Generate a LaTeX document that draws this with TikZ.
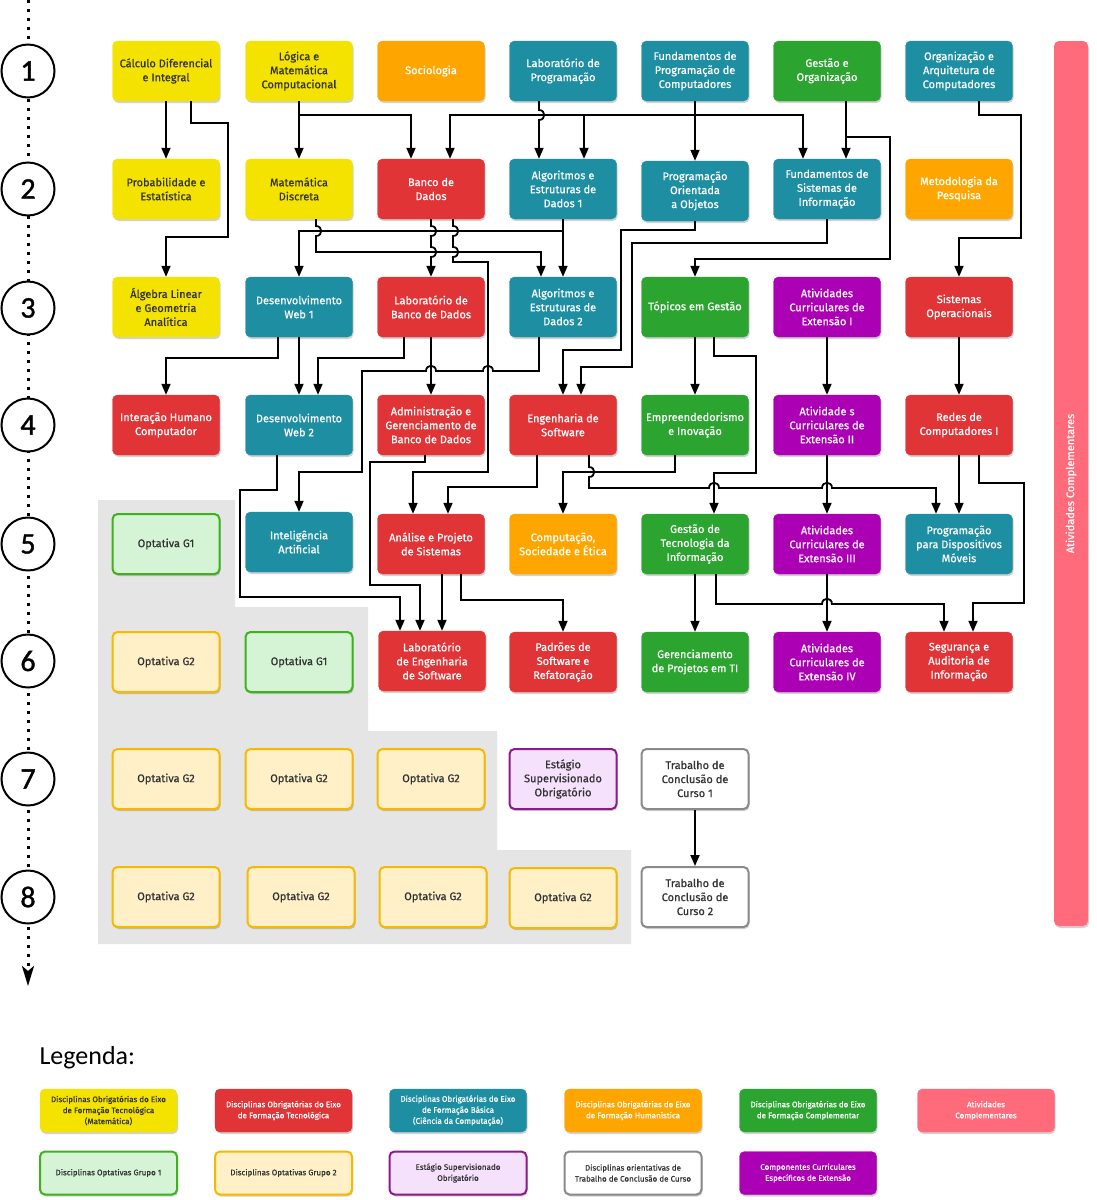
\documentclass[tikz,border=0pt]{standalone}
\usepackage{fontspec}
\setmainfont{Fira Sans}[FakeBold=0.6]
\newfontfamily\numfont{Carlito}[FakeBold=1.2]
\newfontfamily\legfont{Carlito}
\usetikzlibrary{arrows.meta,shadows}

\definecolor{cyel}{HTML}{F4E300}
\definecolor{cred}{HTML}{E03437}
\definecolor{cteal}{HTML}{1E8FA3}
\definecolor{cora}{HTML}{FFA500}
\definecolor{cgrn}{HTML}{2BA52F}
\definecolor{cpur}{HTML}{AC00B5}
\definecolor{cpink}{HTML}{FF6B7B}
\definecolor{copt1f}{HTML}{D5F4D5}
\definecolor{copt1d}{HTML}{3CB21C}
\definecolor{copt2f}{HTML}{FFF0C8}
\definecolor{copt2d}{HTML}{F7B900}
\definecolor{cestf}{HTML}{F5E1FC}
\definecolor{cestd}{HTML}{8B1A8B}
\definecolor{ctccd}{HTML}{8A8A8A}
\definecolor{cbg}{HTML}{E5E5E5}
\definecolor{ctxt}{HTML}{333333}

\newcommand\vjmp[2]{-- (#1,#2-5) .. controls (#1+7,#2-5) and (#1+7,#2+5) .. (#1,#2+5)}
\newcommand\hjmpR[2]{-- (#1-5,#2) .. controls (#1-5,#2-7) and (#1+5,#2-7) .. (#1+5,#2)}
\newcommand\hjmpL[2]{-- (#1+5,#2) .. controls (#1+5,#2-7) and (#1-5,#2-7) .. (#1-5,#2)}

\tikzset{
  box/.style={rectangle, rounded corners=5pt, minimum width=107pt, minimum height=60pt,
    align=center, inner sep=2pt, font=\fontsize{11}{14}\selectfont,
    drop shadow={shadow xshift=1pt, shadow yshift=-2pt, opacity=0.18, fill=black}},
  bYel/.style={box, fill=cyel, draw=cyel, text=ctxt},
  bRed/.style={box, fill=cred, draw=cred, text=white},
  bTeal/.style={box, fill=cteal, draw=cteal, text=white},
  bOra/.style={box, fill=cora, draw=cora, text=white},
  bGrn/.style={box, fill=cgrn, draw=cgrn, text=white},
  bPur/.style={box, fill=cpur, draw=cpur, text=white},
  bOpt1/.style={box, fill=copt1f, draw=copt1d, line width=2pt, text=ctxt},
  bOpt2/.style={box, fill=copt2f, draw=copt2d, line width=2pt, text=ctxt},
  bEst/.style={box, fill=cestf, draw=cestd, line width=2pt, text=ctxt},
  bTcc/.style={box, fill=white, draw=ctccd, line width=2pt, text=ctxt},
  leg/.style={minimum width=137pt, minimum height=43pt, font=\fontsize{8}{11}\selectfont},
  conn/.style={draw=black, line width=1.8pt, -{Triangle[width=9pt,length=11pt]}},
  numc/.style={circle, draw=black, line width=2pt, fill=white, minimum size=53pt, inner sep=0pt,
    font=\numfont\fontsize{30}{30}\selectfont},
}

\begin{document}
\begin{tikzpicture}[x=1pt, y=-1pt]
\useasboundingbox (0,0) rectangle (1096,1200);
\fill[white] (0,0) rectangle (1096,1200);

% gray optional area
\fill[cbg] (98,500) -- (235,500) -- (235,607) -- (368,607) -- (368,731) -- (497,731)
  -- (497,850) -- (631,850) -- (631,944) -- (98,944) -- cycle;

% semester axis
\coordinate (axtop) at (28,0);
\coordinate (axbot) at (28,986);
\draw[line width=3pt, dash pattern=on 3pt off 6pt, -{Stealth[width=12pt,length=20pt,inset=5pt]}] (axtop) -- (axbot);
\foreach \n/\yy in {1/71,2/189,3/308,4/425,5/544,6/661,7/779,8/897}
  \node[numc] (s\n) at (28,\yy) {\n};

% Atividades complementares bar
\node[rectangle, rounded corners=5pt, fill=cpink, rotate=90, minimum width=885pt, minimum height=34pt,
  text=white, font=\fontsize{11}{13}\selectfont,
  drop shadow={shadow xshift=1pt, shadow yshift=-2pt, opacity=0.18, fill=black}] (ativc) at (1071,483.5) {Atividades Complementares};

% Row 1
\node[bYel] (calc) at (166,71) {Cálculo Diferencial\\e Integral};
\node[bYel] (logica) at (299,71) {Lógica e\\Matemática\\Computacional};
\node[bOra] (socio) at (431,71) {Sociologia};
\node[bTeal] (labprog) at (563,71) {Laboratório de\\Programação};
\node[bTeal] (fundprog) at (695,71) {Fundamentos de\\Programação de\\Computadores};
\node[bGrn] (gestao) at (827,71) {Gestão e\\Organização};
\node[bTeal] (orgarq) at (959,71) {Organização e\\Arquitetura de\\Computadores};

% Row 2
\node[bYel] (prob) at (166,189) {Probabilidade e\\Estatística};
\node[bYel] (matdisc) at (299,189) {Matemática\\Discreta};
\node[bRed] (bd) at (431,189) {Banco de\\Dados};
\node[bTeal] (aed1) at (563,189) {Algoritmos e\\Estruturas de\\Dados 1};
\node[bTeal] (poo) at (695,191) {Programação\\Orientada\\a Objetos};
\node[bTeal] (fsi) at (827,189) {Fundamentos de\\Sistemas de\\Informação};
\node[bOra] (metod) at (959,189) {Metodologia da\\Pesquisa};

% Row 3
\node[bYel] (alg) at (166,307) {Álgebra Linear\\e Geometria\\Analítica};
\node[bTeal] (dw1) at (299,307) {Desenvolvimento\\Web 1};
\node[bRed] (labbd) at (431,307) {Laboratório de\\Banco de Dados};
\node[bTeal] (aed2) at (563,307) {Algoritmos e\\Estruturas de\\Dados 2};
\node[bGrn] (topicos) at (695,307) {Tópicos em Gestão};
\node[bPur] (ace1) at (827,307) {Atividades\\Curriculares de\\Extensão I};
\node[bRed] (so) at (959,307) {Sistemas\\Operacionais};

% Row 4
\node[bRed] (ihc) at (166,425) {Interação Humano\\Computador};
\node[bTeal] (dw2) at (299,425) {Desenvolvimento\\Web 2};
\node[bRed] (adm) at (431,425) {Administração e\\Gerenciamento de\\Banco de Dados};
\node[bRed] (es) at (563,425) {Engenharia de\\Software};
\node[bGrn] (empre) at (695,425) {Empreendedorismo\\e Inovação};
\node[bPur] (ace2) at (827,425) {Atividade s\\Curriculares de\\Extensão II};
\node[bRed] (redes) at (959,425) {Redes de\\Computadores I};

% Row 5
\node[bOpt1] (opt51) at (166,544) {Optativa G1};
\node[bTeal] (ia) at (299,542) {Inteligência\\Artificial};
\node[bRed] (aps) at (431,544) {Análise e Projeto\\de Sistemas};
\node[bOra] (comp) at (563,544) {Computação,\\Sociedade e Ética};
\node[bGrn] (gti) at (695,544) {Gestão de\\Tecnologia da\\Informação};
\node[bPur] (ace3) at (827,544) {Atividades\\Curriculares de\\Extensão III};
\node[bTeal] (pdm) at (959,544) {Programação\\para Dispositivos\\Móveis};

% Row 6
\node[bOpt2] (opt61) at (166,662) {Optativa G2};
\node[bOpt1] (opt62) at (299,662) {Optativa G1};
\node[bRed] (labes) at (432,661) {Laboratório\\de Engenharia\\de Software};
\node[bRed] (padroes) at (563,662) {Padrões de\\Software e\\Refatoração};
\node[bGrn] (gp) at (695,662) {Gerenciamento\\de Projetos em TI};
\node[bPur] (ace4) at (827,662) {Atividades\\Curriculares de\\Extensão IV};
\node[bRed] (seg) at (959,662) {Segurança e\\Auditoria de\\Informação};

% Row 7
\node[bOpt2] (opt71) at (166,779) {Optativa G2};
\node[bOpt2] (opt72) at (299,779) {Optativa G2};
\node[bOpt2] (opt73) at (431,779) {Optativa G2};
\node[bEst] (estagio) at (563,779) {Estágio\\Supervisionado\\Obrigatório};
\node[bTcc] (tcc1) at (695,779) {Trabalho de\\Conclusão de\\Curso 1};

% Row 8
\node[bOpt2] (opt81) at (166,897) {Optativa G2};
\node[bOpt2] (opt82) at (301,897) {Optativa G2};
\node[bOpt2] (opt83) at (433,897) {Optativa G2};
\node[bOpt2] (opt84) at (563,898) {Optativa G2};
\node[bTcc] (tcc2) at (695,897) {Trabalho de\\Conclusão de\\Curso 2};

% ---------- connectors ----------
% row 1 -> 2/3
\draw[conn] (calc.south) -- (prob.north);
\draw[conn] ([xshift=25]calc.south) -- (191,123) -- (228,123) -- (228,237) -- (166,237) -- (alg.north);
\draw[conn] (logica.south) -- (matdisc.north);
\draw[conn] (logica.south) -- (299,115) -| ([xshift=-20]bd.north);
\draw[conn] ([xshift=-24]labprog.south) \vjmp{539}{115} -- ([xshift=-24]aed1.north);
\draw[conn] (fundprog.south) -- (poo.north);
\draw[conn] (fundprog.south) -- (695,115) -| ([xshift=19]bd.north);
\draw[conn] (695,115) -| ([xshift=21]aed1.north);
\draw[conn] (695,115) -| ([xshift=-24]fsi.north);
\draw[conn] ([xshift=19]gestao.south) -- ([xshift=19]fsi.north);
\draw[conn] ([xshift=19]gestao.south) -- (846,137) -- (890,137) -- (890,259) -| (topicos.north);
\draw[conn] ([xshift=20]orgarq.south) -- (979,115) -- (1021,115) -- (1021,238) -| (so.north);

% row 2 -> 3/4
\draw[conn] ([xshift=17]matdisc.south) \vjmp{316}{231} -- (316,252) -| ([xshift=-22]aed2.north);
\draw[conn] (aed1.south) -- (aed2.north);
\draw[conn] (aed1.south) -- (563,231) -| (dw1.north);
\draw[conn] (bd.south) \vjmp{431}{231} \vjmp{431}{252} -- (labbd.north);
\draw[conn] ([xshift=22]bd.south) \vjmp{453}{231} \vjmp{453}{252} -- (453,262) -- (488,262)
  -- (488,472) -| ([xshift=-18]aps.north);
\draw[conn] (poo.south) -- (695,230) -- (621,230) -- (621,350) -| (es.north);
\draw[conn] (fsi.south) -- (827,243) -- (632,243) -- (632,367) -| ([xshift=18]es.north);

% row 3 -> 4/5
\draw[conn] ([xshift=-21]dw1.south) -- (278,358) -| (ihc.north);
\draw[conn] (dw1.south) -- (dw2.north);
\draw[conn] ([xshift=-27]labbd.south) -- (404,358) -| ([xshift=19]dw2.north);
\draw[conn] (labbd.south) -- (adm.north);
\draw[conn] ([xshift=-24]aed2.south) -- (539,371) \hjmpL{488}{371} \hjmpL{431}{371}
  -- (362,371) -- (362,472) -| (ia.north);
\draw[conn] (topicos.south) -- (empre.north);
\draw[conn] ([xshift=19]topicos.south) -- (714,356) -- (756,356) -- (756,473) -| ([xshift=19]gti.north);
\draw[conn] (ace1.south) -- (ace2.north);
\draw[conn] (so.south) -- (redes.north);

% row 4 -> 5/6
\draw[conn] ([xshift=-6]adm.south) -- (425,462) -- (370,462) -- (370,585) -- (420,585) -- ([xshift=-12]labes.north);
\draw[conn] ([xshift=-22]dw2.south) -- (277,490) -- (240,490) -- (240,597) -| ([xshift=-32]labes.north);
\draw[conn] ([xshift=-26]es.south) -- (537,487) -| ([xshift=17]aps.north);
\draw[conn] ([xshift=-20]empre.south) -- (675,472) -| (comp.north);
\draw[conn] ([xshift=26]es.south) \vjmp{589}{472} -- (589,488) \hjmpR{714}{488} \hjmpR{827}{488}
  -| ([xshift=-23]pdm.north);
\draw[conn] (ace2.south) -- (ace3.north);
\draw[conn] (redes.south) -- (pdm.north);
\draw[conn] ([xshift=20]redes.south) -- (979,483) -- (1024,483) -- (1024,603) -| ([xshift=14]seg.north);

% row 5 -> 6
\draw[conn] ([xshift=11]aps.south) -- ([xshift=10]labes.north);
\draw[conn] ([xshift=30]aps.south) -- (461,600) -| (padroes.north);
\draw[conn] (gti.south) -- (gp.north);
\draw[conn] ([xshift=21]gti.south) -- (716,604) \hjmpR{827}{604} -| ([xshift=-15]seg.north);
\draw[conn] (ace3.south) -- (ace4.north);

% row 7 -> 8
\draw[conn] (tcc1.south) -- (tcc2.north);

% ---------- legend ----------
\node[anchor=west, font=\legfont\fontsize{26}{28}\selectfont, text=black] (legtitle) at (36,1058) {Legenda:};

\node[bYel, leg] (l1) at (108.5,1110.5) {Disciplinas Obrigatórias do Eixo\\de Formação Tecnológica\\(Matemática)};
\node[bRed, leg] (l2) at (283.5,1110.5) {Disciplinas Obrigatórias do Eixo\\de Formação Tecnológica};
\node[bTeal, leg] (l3) at (458,1110.5) {Disciplinas Obrigatórias do Eixo\\de Formação Básica\\(Ciência da Computação)};
\node[bOra, leg] (l4) at (633,1110.5) {Disciplinas Obrigatórias do Eixo\\de Formação Humanística};
\node[bGrn, leg] (l5) at (808,1110.5) {Disciplinas Obrigatórias do Eixo\\de Formação Complementar};
\node[box, leg, fill=cpink, draw=cpink, text=white] (l6) at (986,1110.5) {Atividades\\Complementares};

\node[bOpt1, leg] (l7) at (108.5,1173) {Disciplinas Optativas Grupo 1};
\node[bOpt2, leg] (l8) at (283.5,1173) {Disciplinas Optativas Grupo 2};
\node[bEst, leg] (l9) at (458,1173) {Estágio Supervisionado\\Obrigatório};
\node[bTcc, leg] (l10) at (633,1173) {Disciplinas orientativas de\\Trabalho de Conclusão de Curso};
\node[bPur, leg] (l11) at (808,1173) {Componentes Curriculares\\Específicos de Extensão};
\end{tikzpicture}
\end{document}
